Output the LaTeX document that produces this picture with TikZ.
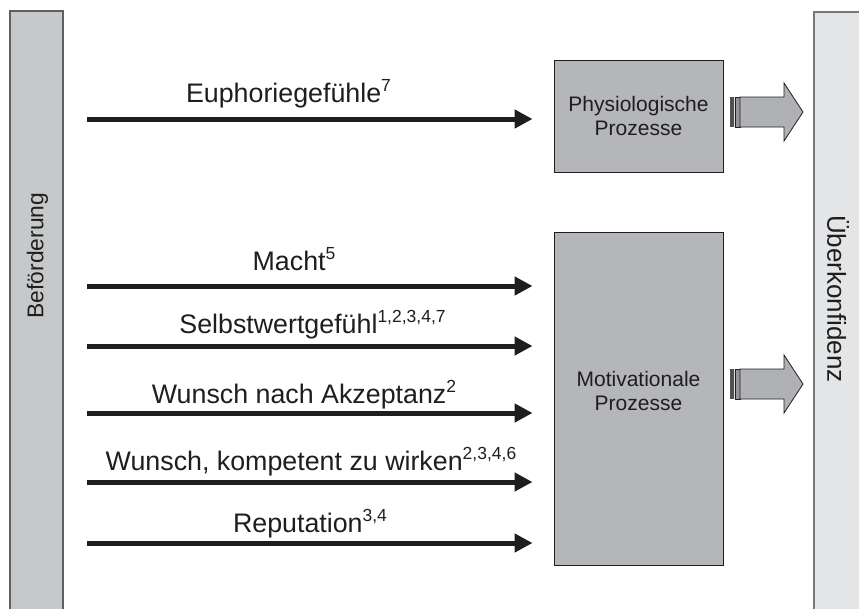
\documentclass[tikz,border=0pt]{standalone}
\usepackage{fontspec}
\setmainfont{Liberation Sans}
\usetikzlibrary{arrows.meta,calc}
\definecolor{leftfill}{RGB}{199,200,202}
\definecolor{leftline}{RGB}{95,95,95}
\definecolor{rightfill}{RGB}{228,229,231}
\definecolor{rightline}{RGB}{120,120,120}
\definecolor{boxfill}{RGB}{181,182,185}
\definecolor{arrfill}{RGB}{176,177,180}
\definecolor{darkline}{RGB}{30,30,30}
\definecolor{stripeA}{RGB}{80,80,80}
\definecolor{stripeB}{RGB}{225,225,225}
\definecolor{stripeC}{RGB}{150,150,152}
\newcommand{\sups}[1]{\raisebox{10.5pt}{\fontsize{17.5}{17.5}\selectfont #1}}
\tikzset{
  x=1pt, y=-1pt,
  bigarrow/.style={draw=darkline, line width=5pt, -{Triangle[length=18pt,width=18pt]}, shorten <=24pt, shorten >=21pt},
  lab/.style={anchor=base, inner sep=0pt, font=\fontsize{26.8}{29}\selectfont, text=darkline},
  procbox/.style={draw=darkline, line width=0.9pt, fill=boxfill, align=center, inner sep=0pt,
    font=\fontsize{21}{24.5}\selectfont, text=darkline, minimum width=169pt},
  hollow/.style={draw=darkline, line width=0.8pt, fill=arrfill},
}
\begin{document}
\begin{tikzpicture}
\useasboundingbox (0,0) rectangle (859,608);
% side bars
\draw[fill=leftfill, draw=leftline, line width=1.6pt] (10,11) rectangle (63,615);
\draw[fill=rightfill, draw=rightline, line width=1.8pt] (814,12) rectangle (870,615);
\node[rotate=90, font=\fontsize{22.8}{24}\selectfont, text=darkline, inner sep=0pt] (left) at (37.5,255.5) {Beförderung};
\node[rotate=-90, font=\fontsize{26}{28}\selectfont, text=darkline, inner sep=0pt] (right) at (838,299) {Überkonfidenz};
% boxes
\node[procbox, minimum height=112pt] (phys) at (638.5,116) {Physiologische\\Prozesse};
\node[procbox, minimum height=333pt] (motiv) at (638.5,398.5) {};
\node[align=center, inner sep=0pt, font=\fontsize{21}{24.5}\selectfont, text=darkline] (motivtext) at (638.5,391) {Motivationale\\Prozesse};
% black arrows
\foreach \y/\n in {119/a1,286/a2,346/a3,413/a4,482/a5,543/a6}{
  \coordinate (\n) at (63,\y);
}
\draw[bigarrow] (a1) -- (phys.west |- a1);
\draw[bigarrow] (a2) -- (motiv.west |- a2);
\draw[bigarrow] (a3) -- (motiv.west |- a3);
\draw[bigarrow] (a4) -- (motiv.west |- a4);
\draw[bigarrow] (a5) -- (motiv.west |- a5);
\draw[bigarrow] (a6) -- (motiv.west |- a6);
% labels
\node[lab] (l1) at (288.5,102) {Euphoriegefühle\sups{7}};
\node[lab] (l2) at (294,270) {Macht\sups{5}};
\node[lab] (l3) at (312.5,333) {Selbstwertgefühl\sups{1,2,3,4,7}};
\node[lab] (l4) at (304,403) {Wunsch nach Akzeptanz\sups{2}};
\node[lab] (l5) at (311,470) {Wunsch, kompetent zu wirken\sups{2,3,4,6}};
\node[lab] (l6) at (310,532) {Reputation\sups{3,4}};
% hollow arrows
\foreach \c in {112,384}{
  \fill[stripeA] (730,\c-15) rectangle (734.3,\c+15);
  \fill[stripeB] (734.3,\c-15) rectangle (735.7,\c+15);
  \draw[fill=stripeC, draw=darkline, line width=0.5pt] (735.7,\c-15) rectangle (740,\c+15);
  \draw[hollow] (740,\c-15) -- (784,\c-15) -- (784,\c-29) -- (803,\c) -- (784,\c+29) -- (784,\c+15) -- (740,\c+15) -- cycle;
}
\end{tikzpicture}
\end{document}
